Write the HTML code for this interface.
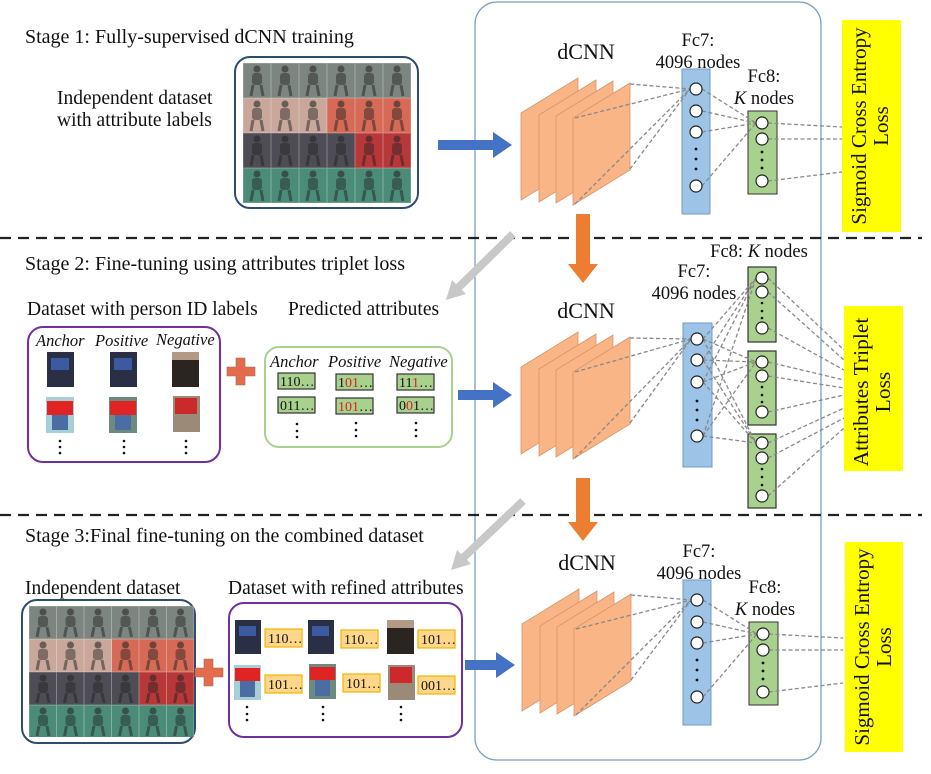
<!DOCTYPE html>
<html><head><meta charset="utf-8"><style>
html,body{margin:0;padding:0;background:#fff}
svg{display:block}
text{font-family:"Liberation Serif",serif;fill:#111}
</style></head><body>
<svg width="931" height="774" viewBox="0 0 931 774" xmlns="http://www.w3.org/2000/svg">
<defs>
<pattern id="fig" width="28" height="35" patternUnits="userSpaceOnUse" x="243" y="63">
<rect x="0" y="0" width="28" height="35" fill="none" stroke="#ffffff" stroke-opacity="0.3" stroke-width="1"/>
<circle cx="14" cy="6" r="3.5" fill="#2a2a2a" fill-opacity="0.6"/>
<rect x="9" y="10" width="10" height="12" rx="3" fill="#222" fill-opacity="0.45"/>
<path d="M10 22 L8 33 M18 22 L20 33" stroke="#222" stroke-opacity="0.5" stroke-width="3"/>
</pattern>
<pattern id="fig2" width="27.5" height="33" patternUnits="userSpaceOnUse" x="29" y="606">
<rect x="0" y="0" width="27.5" height="33" fill="none" stroke="#ffffff" stroke-opacity="0.3" stroke-width="1"/>
<circle cx="14" cy="6" r="3.5" fill="#2a2a2a" fill-opacity="0.6"/>
<rect x="9" y="10" width="10" height="11" rx="3" fill="#222" fill-opacity="0.45"/>
<path d="M10 21 L8 31 M18 21 L20 31" stroke="#222" stroke-opacity="0.5" stroke-width="3"/>
</pattern>
<g id="net1">
 <g fill="#f9b585" stroke="#d9956a" stroke-width="0.8">
  <polygon points="521,113 578,78 578,165 521,200"/>
  <polygon points="539,115 596,80 596,167 539,202"/>
  <polygon points="556,116 613,81 613,168 556,203"/>
  <polygon points="573,118 630,83 630,170 573,205"/>
 </g>
 <rect x="682" y="69" width="28" height="145" fill="#9dc3e6" stroke="#6f9bc8"/>
 <rect x="748" y="111" width="29" height="83" fill="#a9d18e" stroke="#333"/>
 <g stroke="#888" stroke-width="1.3" stroke-dasharray="4,2.5" fill="none">
  <path d="M630,84 L690,89 M575,118 L690,89 M575,204 L690,89 M630,169 L690,89"/>
  <path d="M702,89 L756,123 M702,111 L756,123 M702,132 L756,123 M702,186 L756,123"/>
  <path d="M768,123 L842,127 M768,139 L842,139 M768,181 L842,172"/>
 </g>
 <g fill="#fff" stroke="#222" stroke-width="1.2">
  <circle cx="696" cy="89" r="6"/><circle cx="696" cy="111" r="6"/><circle cx="696" cy="132" r="6"/><circle cx="696" cy="186" r="6"/>
  <circle cx="762" cy="123" r="6"/><circle cx="762" cy="139" r="6"/><circle cx="762" cy="181" r="6"/>
 </g>
 <g fill="#111"><circle cx="696" cy="149" r="1.4"/><circle cx="696" cy="159" r="1.4"/><circle cx="696" cy="169" r="1.4"/>
 <circle cx="762" cy="152" r="1.4"/><circle cx="762" cy="160" r="1.4"/><circle cx="762" cy="168" r="1.4"/></g>
 <text x="698" y="46" font-size="18.5" text-anchor="middle">Fc7:</text>
 <text x="698" y="68" font-size="18.5" text-anchor="middle">4096 nodes</text>
 <text x="764" y="82" font-size="18.5" text-anchor="middle">Fc8:</text>
 <text x="764" y="104" font-size="18.5" text-anchor="middle"><tspan font-style="italic">K</tspan> nodes</text>
 <text x="586" y="59" font-size="22" text-anchor="middle">dCNN</text>
</g>
</defs>

<rect x="475" y="2" width="346" height="758" rx="22" fill="none" stroke="#7c9ec2" stroke-width="1.3"/>

<line x1="0" y1="238" x2="922" y2="238" stroke="#222" stroke-width="2.2" stroke-dasharray="11,7"/>
<line x1="0" y1="515" x2="922" y2="515" stroke="#222" stroke-width="2.2" stroke-dasharray="11,7"/>

<!-- Stage 1 -->
<text x="25" y="43" font-size="20">Stage 1: Fully-supervised dCNN training</text>
<text x="57" y="104" font-size="19.5">Independent dataset</text>
<text x="57" y="126" font-size="19.5">with attribute labels</text>
<rect x="235" y="57" width="183" height="151" rx="15" fill="#fff" stroke="#2c4d6d" stroke-width="2"/>
<rect x="243" y="63" width="168" height="35" fill="#7d8580"/>
<rect x="243" y="98" width="168" height="35" fill="#c9a79a"/>
<rect x="327" y="98" width="84" height="35" fill="#d66a56"/>
<rect x="243" y="133" width="168" height="35" fill="#4e4d55"/>
<rect x="355" y="133" width="56" height="35" fill="#b8383a"/>
<rect x="243" y="168" width="168" height="35" fill="#4a8c78"/>
<rect x="243" y="63" width="168" height="140" fill="url(#fig)"/>

<polygon points="438,140 493,140 493,132 512,145 493,158 493,150 438,150" fill="#4472c4"/>
<polygon points="458,390 493,390 493,382 512,395 493,408 493,400 458,400" fill="#4472c4"/>
<polygon points="465,660 496,660 496,652 515,665 496,678 496,670 465,670" fill="#4472c4"/>

<use href="#net1"/>
<rect x="842" y="20" width="59" height="212" fill="#ffff00"/>
<text transform="translate(866,126) rotate(-90)" font-size="21" text-anchor="middle">Sigmoid Cross Entropy</text>
<text transform="translate(888,126) rotate(-90)" font-size="21" text-anchor="middle">Loss</text>

<polygon points="576,214 590,214 590,264 598,264 583,283 568,264 576,264" fill="#ed7d31"/>
<polygon points="576,478 590,478 590,522 598,522 583,541 568,522 576,522" fill="#ed7d31"/>
<line x1="513" y1="234" x2="458" y2="288" stroke="#c8c8c8" stroke-width="8"/>
<polygon points="446,300 452,280 466,294" fill="#c8c8c8"/>
<line x1="523" y1="501" x2="463" y2="558" stroke="#c8c8c8" stroke-width="8"/>
<polygon points="451,570 457,550 471,564" fill="#c8c8c8"/>

<!-- Stage 2 -->
<text x="25" y="270" font-size="20">Stage 2: Fine-tuning using attributes triplet loss</text>
<text x="27" y="315" font-size="19.5">Dataset with person ID labels</text>
<text x="288" y="315" font-size="19.5">Predicted attributes</text>
<rect x="28" y="327" width="192" height="135" rx="15" fill="#fff" stroke="#7030a0" stroke-width="2"/>
<g font-size="16.5" font-style="italic">
<text x="36" y="346">Anchor</text><text x="95" y="346">Positive</text><text x="156" y="345">Negative</text>
</g>
<rect x="47" y="352" width="27" height="35" fill="#2a2f45"/><rect x="51" y="358" width="18" height="12" fill="#3b5aa0"/>
<rect x="110" y="352" width="27" height="35" fill="#2a2f45"/><rect x="114" y="358" width="18" height="12" fill="#3b5aa0"/>
<rect x="172" y="352" width="27" height="35" fill="#2b2522"/><rect x="172" y="352" width="27" height="8" fill="#b39a85"/>
<rect x="46" y="397" width="28" height="36" fill="#a9cfd6"/><rect x="47" y="401" width="26" height="14" fill="#e02424"/><rect x="52" y="415" width="16" height="15" fill="#4b6da3"/>
<rect x="109" y="397" width="28" height="36" fill="#6c8a80"/><rect x="110" y="401" width="26" height="14" fill="#e02424"/><rect x="115" y="415" width="16" height="15" fill="#4b6da3"/>
<rect x="173" y="396" width="27" height="36" fill="#9c8a78"/><rect x="175" y="398" width="22" height="16" fill="#cc2a2a"/>
<g fill="#111">
<circle cx="60" cy="441" r="1.3"/><circle cx="60" cy="447" r="1.3"/><circle cx="60" cy="453" r="1.3"/>
<circle cx="124" cy="441" r="1.3"/><circle cx="124" cy="447" r="1.3"/><circle cx="124" cy="453" r="1.3"/>
<circle cx="186" cy="441" r="1.3"/><circle cx="186" cy="447" r="1.3"/><circle cx="186" cy="453" r="1.3"/>
</g>
<polygon points="236,358 245,358 245,367 255,367 255,376 245,376 245,385 236,385 236,376 227,376 227,367 236,367" fill="#e46c4c" stroke="#9a6a5a" stroke-width="0.6"/>
<rect x="265" y="347" width="187" height="100" rx="14" fill="#fff" stroke="#a9d18e" stroke-width="2"/>
<g font-size="16.5" font-style="italic">
<text x="270" y="367">Anchor</text><text x="328" y="367">Positive</text><text x="389" y="367">Negative</text>
</g>
<g fill="#a9d18e" stroke="#333" stroke-width="1.2">
<rect x="278" y="373" width="37" height="16"/><rect x="336" y="374" width="37" height="16"/><rect x="397" y="374" width="37" height="16"/>
<rect x="278" y="397" width="37" height="16"/><rect x="336" y="398" width="37" height="16"/><rect x="397" y="397" width="37" height="16"/>
</g>
<g font-size="14">
<text x="280" y="386">110…</text>
<text x="338" y="387">1<tspan fill="#e02020">01</tspan>…</text>
<text x="399" y="387">11<tspan fill="#e02020">1</tspan>…</text>
<text x="280" y="410">011…</text>
<text x="338" y="411"><tspan fill="#e02020">101</tspan>…</text>
<text x="399" y="410">0<tspan fill="#e02020">0</tspan>1…</text>
</g>
<g fill="#111">
<circle cx="297" cy="424" r="1.3"/><circle cx="297" cy="431" r="1.3"/><circle cx="297" cy="437" r="1.3"/>
<circle cx="356" cy="423" r="1.3"/><circle cx="356" cy="430" r="1.3"/><circle cx="356" cy="436" r="1.3"/>
<circle cx="416" cy="423" r="1.3"/><circle cx="416" cy="430" r="1.3"/><circle cx="416" cy="436" r="1.3"/>
</g>

<g fill="#f9b585" stroke="#d9956a" stroke-width="0.8">
  <polygon points="521,367 578,332 578,419 521,454"/>
  <polygon points="539,369 596,334 596,421 539,456"/>
  <polygon points="556,370 613,335 613,422 556,457"/>
  <polygon points="573,372 630,337 630,424 573,459"/>
</g>
<text x="586" y="318" font-size="22" text-anchor="middle">dCNN</text>
<rect x="683" y="323" width="29" height="144" fill="#9dc3e6" stroke="#6f9bc8"/>
<g fill="#a9d18e" stroke="#333" stroke-width="1.2">
<rect x="748" y="267" width="28" height="75"/>
<rect x="748" y="351" width="28" height="74"/>
<rect x="748" y="434" width="28" height="74"/>
</g>
<g stroke="#888" stroke-width="1.3" stroke-dasharray="4,2.5" fill="none">
 <path d="M630,338 L691,339 M575,372 L691,339 M575,458 L691,339 M630,423 L691,339"/>
 <path d="M703,339 L756,278 M703,360 L756,278 M703,382 L756,278 M703,436 L756,278"/>
 <path d="M703,339 L756,362 M703,360 L756,362 M703,382 L756,362 M703,436 L756,362"/>
 <path d="M703,339 L756,443 M703,360 L756,443 M703,382 L756,443 M703,436 L756,443"/>
 <path d="M768,278 L844,350 M768,292 L844,360 M768,328 L844,370"/>
 <path d="M768,362 L844,380 M768,376 L844,388 M768,412 L844,395"/>
 <path d="M768,443 L844,408 M768,458 L844,418 M768,496 L844,428"/>
</g>
<g fill="#fff" stroke="#222" stroke-width="1.2">
<circle cx="697" cy="339" r="6"/><circle cx="697" cy="360" r="6"/><circle cx="697" cy="382" r="6"/><circle cx="697" cy="436" r="6"/>
<circle cx="762" cy="278" r="6"/><circle cx="762" cy="292" r="6"/><circle cx="762" cy="328" r="6"/>
<circle cx="762" cy="362" r="6"/><circle cx="762" cy="376" r="6"/><circle cx="762" cy="412" r="6"/>
<circle cx="762" cy="443" r="6"/><circle cx="762" cy="458" r="6"/><circle cx="762" cy="496" r="6"/>
</g>
<g fill="#111">
<circle cx="697" cy="401" r="1.4"/><circle cx="697" cy="410" r="1.4"/><circle cx="697" cy="420" r="1.4"/>
<circle cx="762" cy="303" r="1.3"/><circle cx="762" cy="311" r="1.3"/><circle cx="762" cy="318" r="1.3"/>
<circle cx="762" cy="387" r="1.3"/><circle cx="762" cy="395" r="1.3"/><circle cx="762" cy="402" r="1.3"/>
<circle cx="762" cy="469" r="1.3"/><circle cx="762" cy="477" r="1.3"/><circle cx="762" cy="485" r="1.3"/>
</g>
<text x="694" y="277" font-size="18.5" text-anchor="middle">Fc7:</text>
<text x="694" y="299" font-size="18.5" text-anchor="middle">4096 nodes</text>
<text x="759" y="257" font-size="18.5" text-anchor="middle">Fc8: <tspan font-style="italic">K</tspan> nodes</text>
<rect x="844" y="306" width="59" height="165" fill="#ffff00"/>
<text transform="translate(868,392) rotate(-90)" font-size="21.5" text-anchor="middle">Attributes Triplet</text>
<text transform="translate(890,392) rotate(-90)" font-size="21.5" text-anchor="middle">Loss</text>

<!-- Stage 3 -->
<text x="25" y="542" font-size="20">Stage 3:Final fine-tuning on the combined dataset</text>
<text x="25" y="594" font-size="19.5">Independent dataset</text>
<text x="228" y="594" font-size="19.5">Dataset with refined attributes</text>
<rect x="22" y="600" width="173" height="143" rx="15" fill="#fff" stroke="#2c4d6d" stroke-width="2"/>
<rect x="29" y="606" width="165" height="33" fill="#7d8580"/>
<rect x="29" y="639" width="165" height="33" fill="#c9a79a"/>
<rect x="112" y="639" width="82" height="33" fill="#d66a56"/>
<rect x="29" y="672" width="165" height="33" fill="#4e4d55"/>
<rect x="139" y="672" width="55" height="33" fill="#b8383a"/>
<rect x="29" y="705" width="165" height="32" fill="#4a8c78"/>
<rect x="29" y="606" width="165" height="131" fill="url(#fig2)"/>
<polygon points="204,659 213,659 213,668 223,668 223,677 213,677 213,686 204,686 204,677 195,677 195,668 204,668" fill="#e46c4c" stroke="#9a6a5a" stroke-width="0.6"/>
<rect x="229" y="603" width="233" height="134" rx="15" fill="#fff" stroke="#7030a0" stroke-width="2"/>
<rect x="235" y="620" width="26" height="34" fill="#2a2f45"/><rect x="239" y="626" width="17" height="10" fill="#3b5aa0"/>
<rect x="308" y="620" width="26" height="34" fill="#2a2f45"/><rect x="312" y="626" width="17" height="10" fill="#3b5aa0"/>
<rect x="387" y="620" width="27" height="34" fill="#2b2522"/><rect x="387" y="620" width="27" height="8" fill="#b39a85"/>
<rect x="234" y="665" width="27" height="35" fill="#a9cfd6"/><rect x="235" y="668" width="25" height="13" fill="#e02424"/><rect x="240" y="681" width="15" height="16" fill="#4b6da3"/>
<rect x="309" y="664" width="27" height="35" fill="#6c8a80"/><rect x="310" y="667" width="25" height="13" fill="#e02424"/><rect x="315" y="680" width="15" height="16" fill="#4b6da3"/>
<rect x="388" y="665" width="27" height="35" fill="#9c8a78"/><rect x="390" y="667" width="22" height="16" fill="#cc2a2a"/>
<g fill="#ffd78a" stroke="#f4b400" stroke-width="1.2">
<rect x="265" y="629" width="37" height="18"/><rect x="341" y="630" width="37" height="18"/><rect x="418" y="630" width="37" height="18"/>
<rect x="265" y="675" width="37" height="18"/><rect x="343" y="674" width="37" height="18"/><rect x="418" y="676" width="37" height="18"/>
</g>
<g font-size="14">
<text x="268" y="643">110…</text><text x="344" y="644">110…</text><text x="421" y="644">101…</text>
<text x="268" y="689">101…</text><text x="346" y="688">101…</text><text x="421" y="690">001…</text>
</g>
<g fill="#111">
<circle cx="247" cy="707" r="1.3"/><circle cx="247" cy="714" r="1.3"/><circle cx="247" cy="720" r="1.3"/>
<circle cx="323" cy="707" r="1.3"/><circle cx="323" cy="714" r="1.3"/><circle cx="323" cy="720" r="1.3"/>
<circle cx="401" cy="707" r="1.3"/><circle cx="401" cy="714" r="1.3"/><circle cx="401" cy="720" r="1.3"/>
</g>

<use href="#net1" transform="translate(1,511)"/>
<rect x="845" y="542" width="58" height="210" fill="#ffff00"/>
<text transform="translate(869,647) rotate(-90)" font-size="21" text-anchor="middle">Sigmoid Cross Entropy</text>
<text transform="translate(891,647) rotate(-90)" font-size="21" text-anchor="middle">Loss</text>
</svg>
</body></html>
